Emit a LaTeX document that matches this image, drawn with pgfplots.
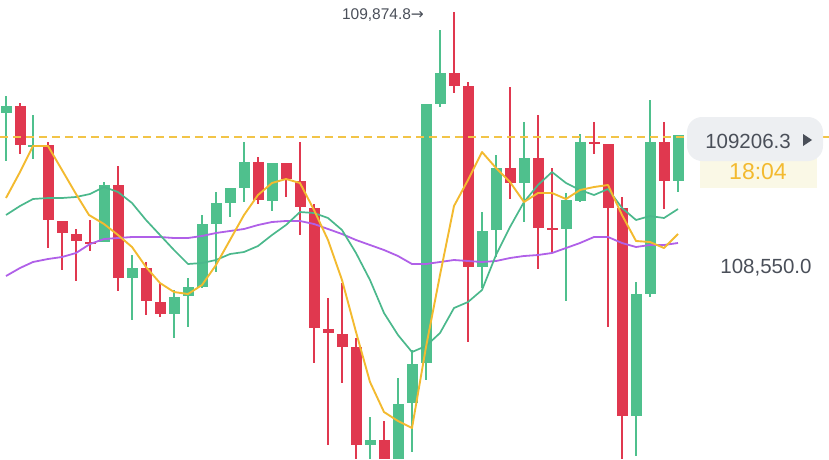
\documentclass[border=0pt]{standalone}
\usepackage{fontspec}
\setmainfont{Liberation Sans}
\newfontfamily\dejavu{DejaVu Sans}
\usepackage{pgfplots}
\usepackage{pgfplotstable}
\pgfplotsset{compat=1.18}
\definecolor{cgreen}{HTML}{4FC08D}
\definecolor{cred}{HTML}{E0384F}
\definecolor{maY}{HTML}{F3BA2F}
\definecolor{maG}{HTML}{4BB88C}
\definecolor{maP}{HTML}{B060E8}
\definecolor{ctext}{HTML}{4A4F59}
\definecolor{cbox}{HTML}{EDEFF2}
\definecolor{cyel}{HTML}{FAF8E6}
\definecolor{cdash}{HTML}{F2C447}

% candles: x, body top, body bottom, wick top, wick bottom (screen units, y downward)
\pgfplotstableread{
x top bot hi lo
6 106 113 96 161
33 145 147 115 159
104 185 242 182 242
132 268 278 255 320
174 297 314 290 338
188 287 296 278 327
202 224 287 215 288
216 203 224 192 272
230 188 203 188 217
244 162 188 142 202
272 163 201 163 211
370 440 445 417 459
398 404 459 378 459
412 364 403 350 452
426 104 363 104 380
440 73 104 30 107
482 231 267 212 288
496 168 230 155 257
524 158 183 122 222
566 200 229 193 301
580 142 201 134 202
636 294 416 282 456
650 142 294 100 297
678 135 181 135 192
}\greencandles

\pgfplotstableread{
x top bot hi lo
20 106 145 103 154
48 145 220 142 248
62 221 233 221 270
76 234 241 229 281
90 242 244 220 251
118 185 278 166 291
146 268 301 262 315
160 302 314 283 317
258 162 200 157 204
286 163 179 163 197
300 181 207 142 235
314 208 328 204 363
328 329 333 298 445
342 334 347 283 383
356 347 445 338 459
384 440 459 421 459
454 73 86 12 93
468 86 267 82 342
510 168 183 87 199
538 158 228 115 269
552 228 230 168 252
594 142 144 122 154
608 144 208 144 327
622 208 416 197 459
664 142 181 122 209
}\redcandles

\pgfplotsset{
  wick/.style={draw=none, mark=none, forget plot,
    error bars/.cd, y dir=both, y explicit, error mark=none,
    error bar style={draw=#1, line width=1.6pt, solid}},
  body/.style={draw=none, mark=none, forget plot,
    error bars/.cd, y dir=both, y explicit, error mark=none,
    error bar style={draw=#1, line width=11pt, solid}},
}

\begin{document}
\begin{tikzpicture}
\begin{axis}[
  name=ax,
  scale only axis, width=829pt, height=459pt,
  xmin=0, xmax=829, ymin=0, ymax=459, y dir=reverse,
  hide axis, clip=true,
]
% wicks
\addplot[wick=cgreen] table[x=x, y expr={(\thisrow{hi}+\thisrow{lo})/2}, y error expr={(\thisrow{lo}-\thisrow{hi})/2}] {\greencandles};
\addplot[wick=cred] table[x=x, y expr={(\thisrow{hi}+\thisrow{lo})/2}, y error expr={(\thisrow{lo}-\thisrow{hi})/2}] {\redcandles};
% bodies
\addplot[body=cgreen] table[x=x, y expr={(\thisrow{top}+\thisrow{bot})/2}, y error expr={(\thisrow{bot}-\thisrow{top})/2}] {\greencandles};
\addplot[body=cred] table[x=x, y expr={(\thisrow{top}+\thisrow{bot})/2}, y error expr={(\thisrow{bot}-\thisrow{top})/2}] {\redcandles};

% MA purple
\addplot[maP, line width=1.8pt, line join=round, mark=none] coordinates {
(6,276) (20,268) (33,262) (48,259) (62,257) (76,253) (90,244) (104,239) (118,238) (132,237) (146,237) (160,237) (174,238) (188,238) (202,236) (216,233) (230,231) (244,229) (258,225) (272,222) (286,221) (300,221) (314,224) (328,229) (342,234) (356,240) (370,245) (384,250) (398,256) (412,264) (426,264) (440,262) (454,260) (468,261) (482,262) (496,261) (510,258) (524,256) (538,255) (552,253) (566,248) (580,243) (594,237) (608,237) (622,243) (636,247) (650,245) (664,245) (678,243)
};
% MA green
\addplot[maG, line width=1.7pt, line join=round, mark=none] coordinates {
(6,215) (20,206) (33,199) (48,198) (62,198) (76,197) (90,194) (104,187) (118,192) (132,203) (146,220) (160,235) (174,250) (188,264) (202,263) (216,260) (230,254) (244,252) (258,246) (272,235) (286,225) (300,212) (314,213) (328,218) (342,230) (356,253) (370,280) (384,313) (398,335) (412,352) (426,346) (440,333) (454,308) (468,302) (482,290) (496,255) (510,227) (524,202) (538,185) (552,172) (566,183) (580,190) (594,195) (608,189) (622,208) (636,220) (650,216) (664,218) (678,209)
};
% MA yellow
\addplot[maY, line width=1.9pt, line join=round, mark=none] coordinates {
(6,198) (20,172) (33,146) (48,146) (62,170) (76,194) (89,215) (104,224) (118,235) (132,247) (146,267) (160,283) (174,292) (188,294) (202,285) (216,265) (230,240) (244,215) (258,195) (272,183) (286,179) (300,183) (314,210) (328,240) (342,280) (356,332) (370,382) (384,412) (398,421) (412,428) (426,347) (440,275) (454,206) (468,180) (482,152) (496,168) (510,182) (524,202) (538,193) (552,193) (566,199) (580,190) (594,187) (608,185) (622,215) (636,241) (650,242) (664,248) (678,234)
};
% last price dashed line
\addplot[cdash, line width=1.2pt, dash pattern=on 8pt off 5pt, mark=none] coordinates {(0,137) (686,137)};
\addplot[cdash, line width=1.2pt, mark=none] coordinates {(823,137) (829,137)};

% labels
\node[anchor=base, text=ctext, font=\fontsize{15.5}{16}\selectfont] at (axis cs:383,19) {109,874.8{\dejavu\fontsize{15.5}{16}\selectfont →}};
\fill[cyel] (axis cs:700,158) rectangle (axis cs:817,188);
\node[anchor=base, text=maY, font=\fontsize{23}{24}\selectfont] at (axis cs:758,179) {18:04};
\fill[cbox, rounded corners=15pt] (axis cs:687,117) rectangle (axis cs:823,161);
\node[anchor=base, text=ctext, font=\fontsize{20.5}{21}\selectfont] at (axis cs:748,148) {109206.3};
\fill[ctext] (axis cs:803,134) -- (axis cs:812,140) -- (axis cs:803,146) -- cycle;
\node[anchor=base, text=ctext, font=\fontsize{20.5}{21}\selectfont] at (axis cs:766,273) {108,550.0};
\end{axis}
\pgfresetboundingbox
\path[use as bounding box] (ax.south west) rectangle (ax.north east);
\end{tikzpicture}
\end{document}
